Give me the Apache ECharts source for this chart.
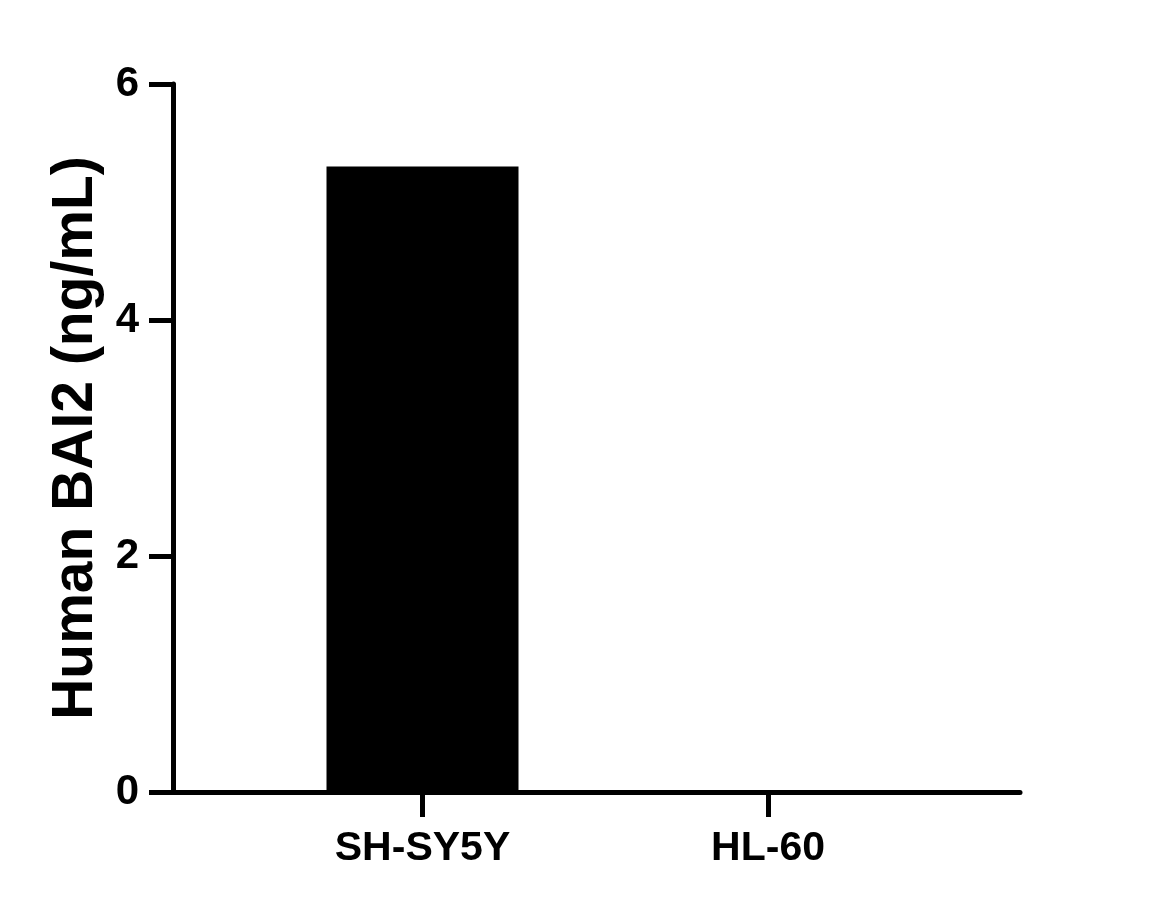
<!DOCTYPE html>
<html>
<head>
<meta charset="utf-8">
<script src="https://cdn.jsdelivr.net/npm/echarts@6/dist/echarts.min.js"></script>
<style>
html,body{margin:0;padding:0;background:#fff;}
#chart{width:1157px;height:909px;}
</style>
</head>
<body>
<div id="chart"></div>
<script>
const categories = ['SH-SY5Y', 'HL-60'];
const values = [5.3, 0];
const yTicks = [0, 2, 4, 6];
const yTitle = 'Human BAI2 (ng/mL)';

const chart = echarts.init(document.getElementById('chart'), null, {renderer: 'canvas'});
const font = '"Liberation Sans", Arial, sans-serif';
const positions = categories.map((c, i) => i);

chart.setOption({
  animation: false,
  backgroundColor: '#ffffff',
  grid: {left: 173, right: 137, top: 84, bottom: 117, containLabel: false},
  xAxis: {
    type: 'value',
    min: -0.722,
    max: 1.729,
    splitLine: {show: false},
    axisLine: {show: true, onZero: false, lineStyle: {color: '#000', width: 5}},
    axisTick: {show: true, customValues: positions, length: 25, lineStyle: {color: '#000', width: 5}},
    axisLabel: {
      show: true, customValues: positions, margin: 36,
      formatter: v => categories[Math.round(v)] || '',
      color: '#000', fontFamily: font, fontWeight: 'bold', fontSize: 41
    }
  },
  yAxis: {
    type: 'value',
    min: yTicks[0],
    max: yTicks[yTicks.length - 1],
    interval: 2,
    name: yTitle,
    nameLocation: 'middle',
    nameGap: 66,
    nameRotate: 90,
    nameTextStyle: {color: '#000', fontFamily: font, fontWeight: 'bold', fontSize: 57},
    splitLine: {show: false},
    axisLine: {show: true, onZero: false, lineStyle: {color: '#000', width: 5}},
    axisTick: {show: true, length: 24, lineStyle: {color: '#000', width: 5}},
    axisLabel: {margin: 34, color: '#000', fontFamily: font, fontWeight: 'bold', fontSize: 42}
  },
  series: [{
    type: 'bar',
    data: values.map((v, i) => [positions[i], v]),
    barWidth: 192,
    itemStyle: {color: '#000'}
  }]
});
</script>
</body>
</html>
